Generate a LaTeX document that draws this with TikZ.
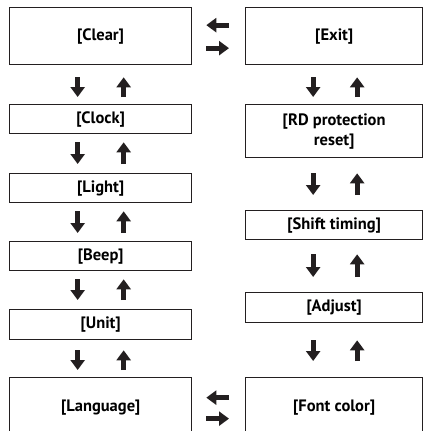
\documentclass[tikz,border=0pt]{standalone}
\usepackage{fontspec}
\setmainfont{PT Sans}
\usetikzlibrary{arrows.meta}
\definecolor{boxline}{RGB}{35,31,32}

\begin{document}
\begin{tikzpicture}[x=1pt, y=-1pt,
  menubox/.style={draw=boxline, line width=1.3pt, anchor=north west, inner sep=0pt,
    align=center, font=\fontsize{16.5}{20}\selectfont\bfseries},
  leftbox/.style={menubox, minimum width=182pt},
  rightbox/.style={menubox, minimum width=177pt},
  fatarrow/.style={-{Triangle[length=10pt,width=14pt]}, line width=5pt, draw=boxline}]

\useasboundingbox (0,0) rectangle (423,431);

% Left column
\node[leftbox, minimum height=57pt] (clear) at (9,7) {[Clear]};
\node[leftbox, minimum height=29pt] (clock) at (9,104) {[Clock]};
\node[leftbox, minimum height=29pt] (light) at (9,173) {[Light]};
\node[leftbox, minimum height=29pt] (beep) at (9,241) {[Beep]};
\node[leftbox, minimum height=30pt] (unit) at (9,309) {[Unit]};
\node[leftbox, minimum height=60pt] (language) at (9,377) {[Language]};

% Right column
\node[rightbox, minimum height=57pt] (exit) at (245,7) {[Exit]};
\node[rightbox, minimum height=53pt] (rdreset) at (245,104) {[RD protection\\reset]};
\node[rightbox, minimum height=29pt] (shift) at (245,210) {[Shift timing]};
\node[rightbox, minimum height=30pt] (adjust) at (245,292) {[Adjust]};
\node[rightbox, minimum height=60pt] (fontcolor) at (245,377) {[Font color]};

% Left column arrows
\draw[fatarrow, shorten <=12pt, shorten >=7pt] ([xshift=-23pt]clear.south) -- ([xshift=-23pt]clock.north);
\draw[fatarrow, shorten <=7pt, shorten >=12pt] ([xshift=23pt]clock.north) -- ([xshift=23pt]clear.south);
\draw[fatarrow, shorten <=8pt, shorten >=9pt] ([xshift=-23pt]clock.south) -- ([xshift=-23pt]light.north);
\draw[fatarrow, shorten <=9pt, shorten >=8pt] ([xshift=23pt]light.north) -- ([xshift=23pt]clock.south);
\draw[fatarrow, shorten <=8pt, shorten >=8pt] ([xshift=-23pt]light.south) -- ([xshift=-23pt]beep.north);
\draw[fatarrow, shorten <=8pt, shorten >=8pt] ([xshift=23pt]beep.north) -- ([xshift=23pt]light.south);
\draw[fatarrow, shorten <=8pt, shorten >=9pt] ([xshift=-23pt]beep.south) -- ([xshift=-23pt]unit.north);
\draw[fatarrow, shorten <=9pt, shorten >=8pt] ([xshift=23pt]unit.north) -- ([xshift=23pt]beep.south);
\draw[fatarrow, shorten <=10pt, shorten >=7pt] ([xshift=-23pt]unit.south) -- ([xshift=-23pt]language.north);
\draw[fatarrow, shorten <=7pt, shorten >=10pt] ([xshift=23pt]language.north) -- ([xshift=23pt]unit.south);

% Right column arrows
\draw[fatarrow, shorten <=12pt, shorten >=7pt] ([xshift=-21pt]exit.south) -- ([xshift=-21pt]rdreset.north);
\draw[fatarrow, shorten <=7pt, shorten >=12pt] ([xshift=23pt]rdreset.north) -- ([xshift=23pt]exit.south);
\draw[fatarrow, shorten <=15pt, shorten >=15pt] ([xshift=-21pt]rdreset.south) -- ([xshift=-21pt]shift.north);
\draw[fatarrow, shorten <=15pt, shorten >=15pt] ([xshift=23pt]shift.north) -- ([xshift=23pt]rdreset.south);
\draw[fatarrow, shorten <=14pt, shorten >=15pt] ([xshift=-21pt]shift.south) -- ([xshift=-21pt]adjust.north);
\draw[fatarrow, shorten <=15pt, shorten >=14pt] ([xshift=23pt]adjust.north) -- ([xshift=23pt]shift.south);
\draw[fatarrow, shorten <=17pt, shorten >=16pt] ([xshift=-21pt]adjust.south) -- ([xshift=-21pt]fontcolor.north);
\draw[fatarrow, shorten <=16pt, shorten >=17pt] ([xshift=23pt]fontcolor.north) -- ([xshift=23pt]adjust.south);

% Between columns
\draw[fatarrow, shorten <=16pt, shorten >=14pt] ([yshift=11pt]exit.west) -- ([yshift=11pt]clear.east);
\draw[fatarrow, shorten <=14pt, shorten >=16pt] ([yshift=-12pt]clear.east) -- ([yshift=-12pt]exit.west);
\draw[fatarrow, shorten <=16pt, shorten >=14pt] ([yshift=10pt]fontcolor.west) -- ([yshift=10pt]language.east);
\draw[fatarrow, shorten <=14pt, shorten >=16pt] ([yshift=-11pt]language.east) -- ([yshift=-11pt]fontcolor.west);

\end{tikzpicture}
\end{document}
